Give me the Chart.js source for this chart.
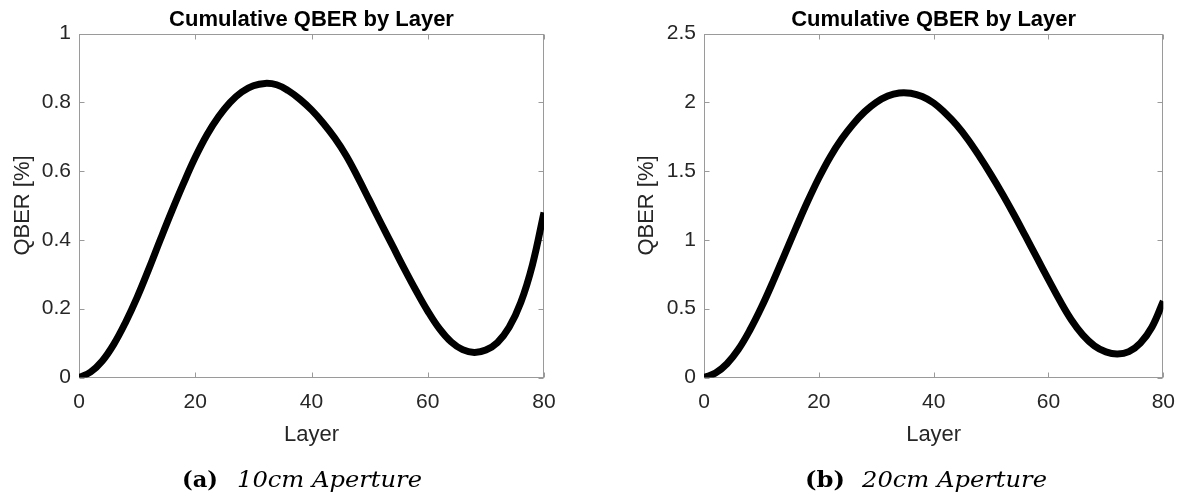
<!DOCTYPE html>
<html>
<head>
<meta charset="utf-8">
<script src="https://cdn.jsdelivr.net/npm/chart.js@4.4.0/dist/chart.umd.min.js"></script>
<style>
  html, body { margin: 0; padding: 0; background: #fff; }
  #wrap { position: relative; width: 1187px; height: 500px; }
  .panel { position: absolute; top: 0; height: 500px; }
  #p1 { left: 0; width: 593px; }
  #p2 { left: 593px; width: 594px; }
</style>
</head>
<body>
<div id="wrap">
  <div class="panel" id="p1"><canvas id="chartA" width="593" height="500"></canvas></div>
  <div class="panel" id="p2"><canvas id="chartB" width="594" height="500"></canvas></div>
</div>
<script>
// values
const layers = [0, 2, 4, 6, 8, 10, 12, 14, 16, 18, 20, 22, 24, 26, 28, 30, 32, 34, 36, 38, 40,
  42, 44, 46, 48, 50, 52, 54, 56, 58, 60, 62, 64, 66, 68, 70, 72, 74, 76, 78, 80];
const qber10cm = [0, 0.016, 0.048, 0.097, 0.160, 0.233, 0.315, 0.401, 0.485, 0.565, 0.640,
  0.705, 0.758, 0.800, 0.830, 0.848, 0.855, 0.851, 0.834, 0.809, 0.778,
  0.740, 0.696, 0.644, 0.581, 0.514, 0.447, 0.381, 0.315, 0.252, 0.193,
  0.142, 0.104, 0.081, 0.073, 0.080, 0.102, 0.146, 0.218, 0.327, 0.480];
const qber20cm = [0, 0.032, 0.100, 0.205, 0.345, 0.510, 0.695, 0.890, 1.085, 1.275, 1.450,
  1.605, 1.735, 1.843, 1.932, 2.000, 2.046, 2.068, 2.066, 2.042, 1.995,
  1.922, 1.835, 1.728, 1.605, 1.473, 1.332, 1.183, 1.027, 0.869, 0.711,
  0.557, 0.418, 0.308, 0.230, 0.186, 0.171, 0.188, 0.250, 0.365, 0.555];
const xTicks = [0, 20, 40, 60, 80];
const yTicks10cm = [0, 0.2, 0.4, 0.6, 0.8, 1];
const yTicks20cm = [0, 0.5, 1, 1.5, 2, 2.5];

const SANS = '"Liberation Sans", Arial, Helvetica, sans-serif';
const SERIF = '"DejaVu Serif", "Liberation Serif", serif';
const BOX = '#9a9a9a';
const TXT = '#262626';

// box around the axes with inward ticks on all sides
const framePlugin = {
  id: 'frame',
  beforeDatasetsDraw(chart) {
    const { ctx, chartArea: a, scales } = chart;
    const L = Math.round(a.left) + 0.5, R = Math.round(a.right) - 0.5;
    const T = Math.round(a.top) + 0.5, B = Math.round(a.bottom) - 0.5;
    ctx.save();
    ctx.strokeStyle = BOX;
    ctx.lineWidth = 1;
    ctx.strokeRect(L, T, R - L, B - T);
    ctx.beginPath();
    scales.x.ticks.forEach(t => {
      const px = Math.round(scales.x.getPixelForValue(t.value)) + 0.5;
      ctx.moveTo(px, B); ctx.lineTo(px, B - 5);
      ctx.moveTo(px, T); ctx.lineTo(px, T + 5);
    });
    scales.y.ticks.forEach(t => {
      const py = Math.round(scales.y.getPixelForValue(t.value)) + 0.5;
      ctx.moveTo(L, py); ctx.lineTo(L + 5, py);
      ctx.moveTo(R, py); ctx.lineTo(R - 5, py);
    });
    ctx.stroke();
    ctx.restore();
  }
};

// sub-figure caption under each plot
const captionPlugin = {
  id: 'caption',
  afterDraw(chart, args, opts) {
    const ctx = chart.ctx;
    ctx.save();
    ctx.fillStyle = '#000';
    ctx.textBaseline = 'alphabetic';
    ctx.textAlign = 'left';
    const put = (str, font, x, w) => {
      ctx.font = font;
      const m = ctx.measureText(str).width;
      ctx.save();
      ctx.translate(x, opts.y);
      ctx.scale(w / m, 1);
      ctx.fillText(str, 0, 0);
      ctx.restore();
    };
    put(opts.tag, 'bold 23px ' + SERIF, opts.tagX, opts.tagW);
    put(opts.text, 'italic 23px ' + SERIF, opts.textX, opts.textW);
    ctx.restore();
  }
};

function makeChart(id, values, yTicks, yMax, yWidth, rightPad, yTitlePad, caption) {
  return new Chart(document.getElementById(id), {
    type: 'line',
    data: {
      datasets: [{
        data: layers.map((l, i) => ({ x: l, y: values[i] })),
        borderColor: '#000',
        borderWidth: 7,
        pointRadius: 0,
        fill: false,
        tension: 0.4
      }]
    },
    options: {
      responsive: false,
      animation: false,
      devicePixelRatio: 1,
      layout: { padding: { left: 0, right: rightPad, top: 0, bottom: 0 } },
      plugins: {
        legend: { display: false },
        tooltip: { enabled: false },
        title: {
          display: true,
          text: 'Cumulative QBER by Layer',
          fullSize: false,
          color: '#000',
          font: { family: SANS, size: 22, weight: 'bold' },
          padding: { top: 6.6, bottom: 0.5 }
        },
        caption: caption
      },
      scales: {
        x: {
          type: 'linear',
          min: 0,
          max: 80,
          grid: { display: false, drawTicks: false },
          border: { display: false },
          afterBuildTicks: s => { s.ticks = xTicks.map(v => ({ value: v })); },
          afterFit: s => { s.height = 122.5; },
          ticks: { color: TXT, padding: 12, font: { family: SANS, size: 21 }, callback: v => String(v) },
          title: {
            display: true, text: 'Layer', color: TXT,
            font: { family: SANS, size: 22 },
            padding: { top: 0, bottom: 51.8 }
          }
        },
        y: {
          min: 0,
          max: yMax,
          grid: { display: false, drawTicks: false },
          border: { display: false },
          afterBuildTicks: s => { s.ticks = yTicks.map(v => ({ value: v })); },
          afterFit: s => { s.width = yWidth; },
          ticks: { color: TXT, padding: 8, font: { family: SANS, size: 21 }, callback: v => String(v) },
          title: {
            display: true, text: 'QBER [%]', color: TXT,
            font: { family: SANS, size: 22 },
            padding: { top: yTitlePad, bottom: 0 }
          }
        }
      }
    },
    plugins: [framePlugin, captionPlugin]
  });
}

makeChart('chartA', qber10cm, yTicks10cm, 1, 79, 49, 9.8,
  { tag: '(a)', text: '10cm Aperture', y: 487, tagX: 182, tagW: 36, textX: 237, textW: 185 });
makeChart('chartB', qber20cm, yTicks20cm, 2.5, 111, 19, 40.8,
  { tag: '(b)', text: '20cm Aperture', y: 487, tagX: 212, tagW: 40, textX: 269, textW: 185 });
</script>
</body>
</html>
